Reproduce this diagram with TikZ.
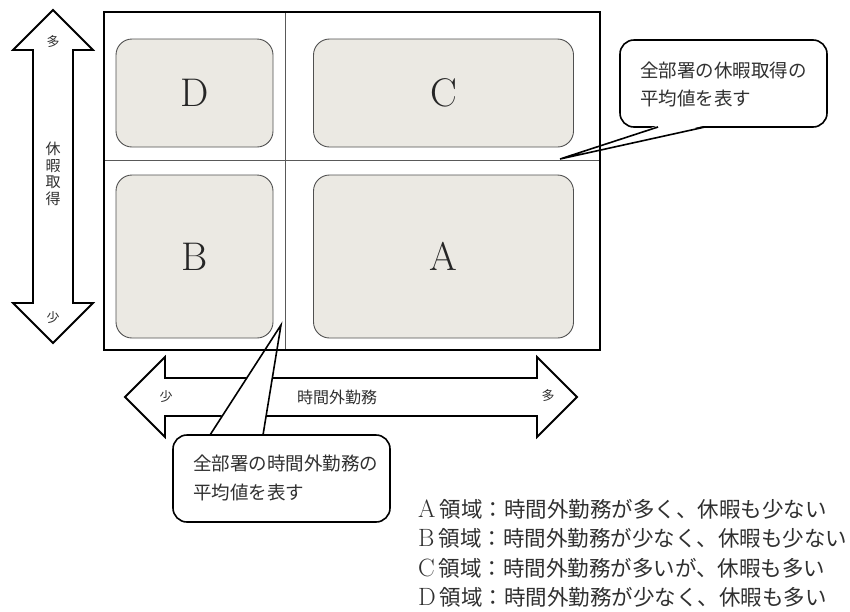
\documentclass[tikz,border=0pt]{standalone}
\usepackage{fontspec}
\newfontfamily\jp{Noto Sans CJK JP}
\definecolor{boxfill}{HTML}{EBE9E3}
\definecolor{boxline}{HTML}{505050}
\definecolor{txt}{HTML}{303030}
\newcommand{\legletter}[1]{{\rmfamily\fontsize{25}{25}\selectfont #1}\hspace{4pt}}
\tikzset{
  region/.style={draw=boxline, line width=0.9pt, fill=boxfill, rounded corners=16pt, inner sep=0pt},
  frameline/.style={line width=2.4pt, draw=black},
  divider/.style={line width=0.8pt, draw=black!65},
  bigarrow/.style={draw=black, line width=1.8pt, fill=white, line join=miter},
  callout/.style={draw=black, line width=1.6pt, fill=white, rounded corners=14pt, inner sep=0pt},
  pointer/.style={draw=black, line width=1.6pt, line join=miter},
  letter/.style={font=\fontsize{40}{40}\selectfont, text=black!85},
  jsmall/.style={font=\jp\fontsize{13}{13}\selectfont, text=txt, inner sep=0pt},
  jmid/.style={font=\jp\fontsize{16}{16}\selectfont, text=txt, inner sep=0pt},
  jcall/.style={font=\jp\fontsize{18.5}{18.5}\selectfont, text=txt, inner sep=0pt, anchor=west},
  jlegend/.style={font=\jp\fontsize{21.5}{21.5}\selectfont, text=txt, inner sep=0pt, anchor=west},
}
\begin{document}
\begin{tikzpicture}[x=1pt,y=-1pt]
\useasboundingbox (0,0) rectangle (850,611);
\fill[white] (0,0) rectangle (850,611);

% vertical double arrow
\draw[bigarrow] (53,10) -- (93,50) -- (73,50) -- (73,303) -- (93,303) -- (53,343)
  -- (13,303) -- (33,303) -- (33,50) -- (13,50) -- cycle;
\node[jsmall] (vmany) at (53,42) {多};
\node[jsmall] (vfew) at (53,318) {少};
\node[jmid, font=\jp\fontsize{15}{16.5}\selectfont, align=center] (vlabel) at (53,174) {休\\暇\\取\\得};

% horizontal double arrow
\draw[bigarrow] (125,397) -- (165,357) -- (165,378) -- (537,378) -- (537,357) -- (577,397)
  -- (537,437) -- (537,416) -- (165,416) -- (165,437) -- cycle;
\node[jsmall] (hfew) at (166,397) {少};
\node[jmid] (hlabel) at (337,397) {時間外勤務};
\node[jsmall] (hmany) at (548,396) {多};

% regions
\node[region, minimum width=157pt, minimum height=108pt, letter] (D) at (194.5,93) {D};
\node[region, minimum width=260pt, minimum height=108pt, letter] (C) at (443.5,93) {C};
\node[region, minimum width=157pt, minimum height=163pt, letter] (B) at (194.5,256.5) {B};
\node[region, minimum width=260pt, minimum height=163pt, letter] (A) at (443.5,256.5) {A};

% callout top right
\node[callout, minimum width=207pt, minimum height=87pt] (cr) at (723.5,83.5) {};
\coordinate (crb1) at (658,127);
\coordinate (crb2) at (705,127);
\coordinate (crtip) at (560,159);
\fill[white] ([yshift=1.5pt]crb1) -- (crtip) -- ([yshift=1.5pt]crb2) -- cycle;
\draw[pointer] (crb1) -- (crtip) -- (crb2);
\node[jcall] (crt1) at (640,70) {全部署の休暇取得の};
\node[jcall] (crt2) at (640,98) {平均値を表す};

% callout bottom
\node[callout, minimum width=217pt, minimum height=87pt] (cb) at (281.5,478.5) {};
\coordinate (cbb1) at (210,435);
\coordinate (cbb2) at (263,435);
\coordinate (cbtip) at (281,325);
\fill[white] ([yshift=1.5pt]cbb1) -- (cbtip) -- ([yshift=1.5pt]cbb2) -- cycle;
\draw[pointer] (cbb1) -- (cbtip) -- (cbb2);
\node[jcall] (cbt1) at (193,463) {全部署の時間外勤務の};
\node[jcall] (cbt2) at (193,492) {平均値を表す};

% frame and dividers
\draw[divider] (285,12) -- (285,350);
\draw[divider] (104,160) -- (600,160);
\draw[frameline] (104,12) rectangle (600,350);

% legend
\node[jlegend] (la) at (418,509) {\legletter{A}領域：時間外勤務が多く、休暇も少ない};
\node[jlegend] (lb) at (418,538) {\legletter{B}領域：時間外勤務が少なく、休暇も少ない};
\node[jlegend] (lc) at (418,568) {\legletter{C}領域：時間外勤務が多いが、休暇も多い};
\node[jlegend] (ld) at (418,597) {\legletter{D}領域：時間外勤務が少なく、休暇も多い};
\end{tikzpicture}
\end{document}
